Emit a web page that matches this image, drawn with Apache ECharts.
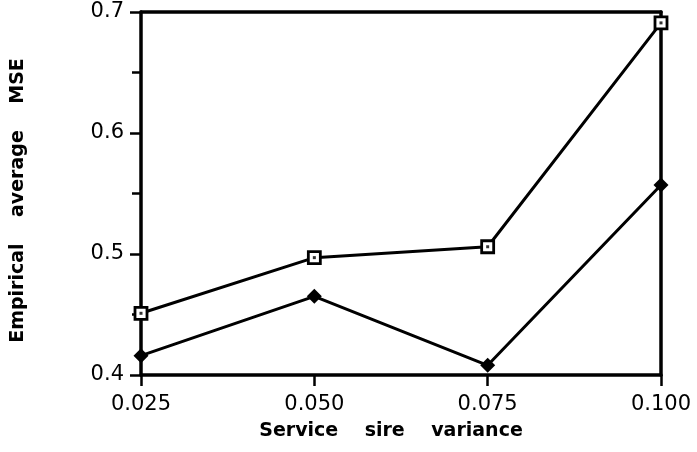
<!DOCTYPE html>
<html><head><meta charset="utf-8">
<script src="https://cdn.jsdelivr.net/npm/echarts@6/dist/echarts.min.js"></script>
<style>html,body{margin:0;padding:0;background:#fff}#c{width:697px;height:452px}</style>
</head><body><div id="c"></div>
<script>
var xValues = [0.025, 0.050, 0.075, 0.100];
var squareSeries = [0.451, 0.497, 0.506, 0.691];
var diamondSeries = [0.416, 0.465, 0.408, 0.557];
var xTicks = ['0.025', '0.050', '0.075', '0.100'];
var yTicks = ['0.4', '0.5', '0.6', '0.7'];

function pairs(vals){ return xValues.map(function(x,i){ return [x, vals[i]]; }); }

var chart = echarts.init(document.getElementById('c'));
var font = '"DejaVu Sans", Arial, Helvetica, sans-serif';
chart.setOption({
  animation: false,
  backgroundColor: '#fff',
  grid: { left: 141, right: 36, top: 12, bottom: 77, show: false, outerBoundsMode: 'none', containLabel: false },
  xAxis: [{
    type: 'value', min: 0.025, max: 0.1, interval: 0.025,
    name: 'Service    sire    variance', nameLocation: 'middle', nameGap: 47,
    nameTextStyle: { fontFamily: font, fontWeight: 'bold', fontSize: 19, color: '#000', padding: [0, 20, 0, 0] },
    axisLine: { lineStyle: { color: '#000', width: 3.5 } },
    axisTick: { show: true, length: 11, lineStyle: { color: '#000', width: 2.5 } },
    axisLabel: { margin: 19, fontFamily: font, fontSize: 21, color: '#000',
      formatter: function(v){ var i = xValues.findIndex(function(x){return Math.abs(x-v)<1e-9;}); return i>=0 ? xTicks[i] : ''; } },
    splitLine: { show: false }
  }, {
    type: 'value', position: 'top', min: 0.025, max: 0.1,
    axisLine: { show: true, lineStyle: { color: '#000', width: 3.5 } },
    axisTick: { show: false }, axisLabel: { show: false }, splitLine: { show: false }
  }],
  yAxis: [{
    type: 'value', min: 0.4, max: 0.7, interval: 0.1,
    name: 'Empirical    average    MSE', nameLocation: 'middle', nameGap: 113, nameRotate: 90,
    nameTextStyle: { fontFamily: font, fontWeight: 'bold', fontSize: 19, color: '#000', padding: [0, 14, 0, 0] },
    axisLine: { show: true, lineStyle: { color: '#000', width: 3.5 } },
    axisTick: { show: true, length: 11, lineStyle: { color: '#000', width: 2.5 } },
    minorTick: { show: true, splitNumber: 2, length: 9, lineStyle: { color: '#000', width: 2.5 } },
    axisLabel: { margin: 17, fontFamily: font, fontSize: 21, color: '#000',
      formatter: function(v){ var i = Math.round((v-0.4)/0.1); return yTicks[i] || ''; } },
    splitLine: { show: false }
  }, {
    type: 'value', position: 'right', min: 0.4, max: 0.7,
    axisLine: { show: true, lineStyle: { color: '#000', width: 3.5 } },
    axisTick: { show: false }, axisLabel: { show: false }, splitLine: { show: false }
  }],
  series: [{
    type: 'line', data: pairs(diamondSeries), symbol: 'diamond', symbolSize: 15,
    lineStyle: { color: '#000', width: 3 }, itemStyle: { color: '#000' }, z: 3
  }, {
    type: 'line', data: pairs(squareSeries), symbol: 'rect', symbolSize: 12,
    lineStyle: { color: '#000', width: 3 },
    itemStyle: { color: '#fff', borderColor: '#000', borderWidth: 2.8 }, z: 3
  }, {
    type: 'scatter', data: pairs(squareSeries), symbol: 'rect', symbolSize: 3,
    itemStyle: { color: '#000' }, z: 5
  }]
});
</script></body></html>
